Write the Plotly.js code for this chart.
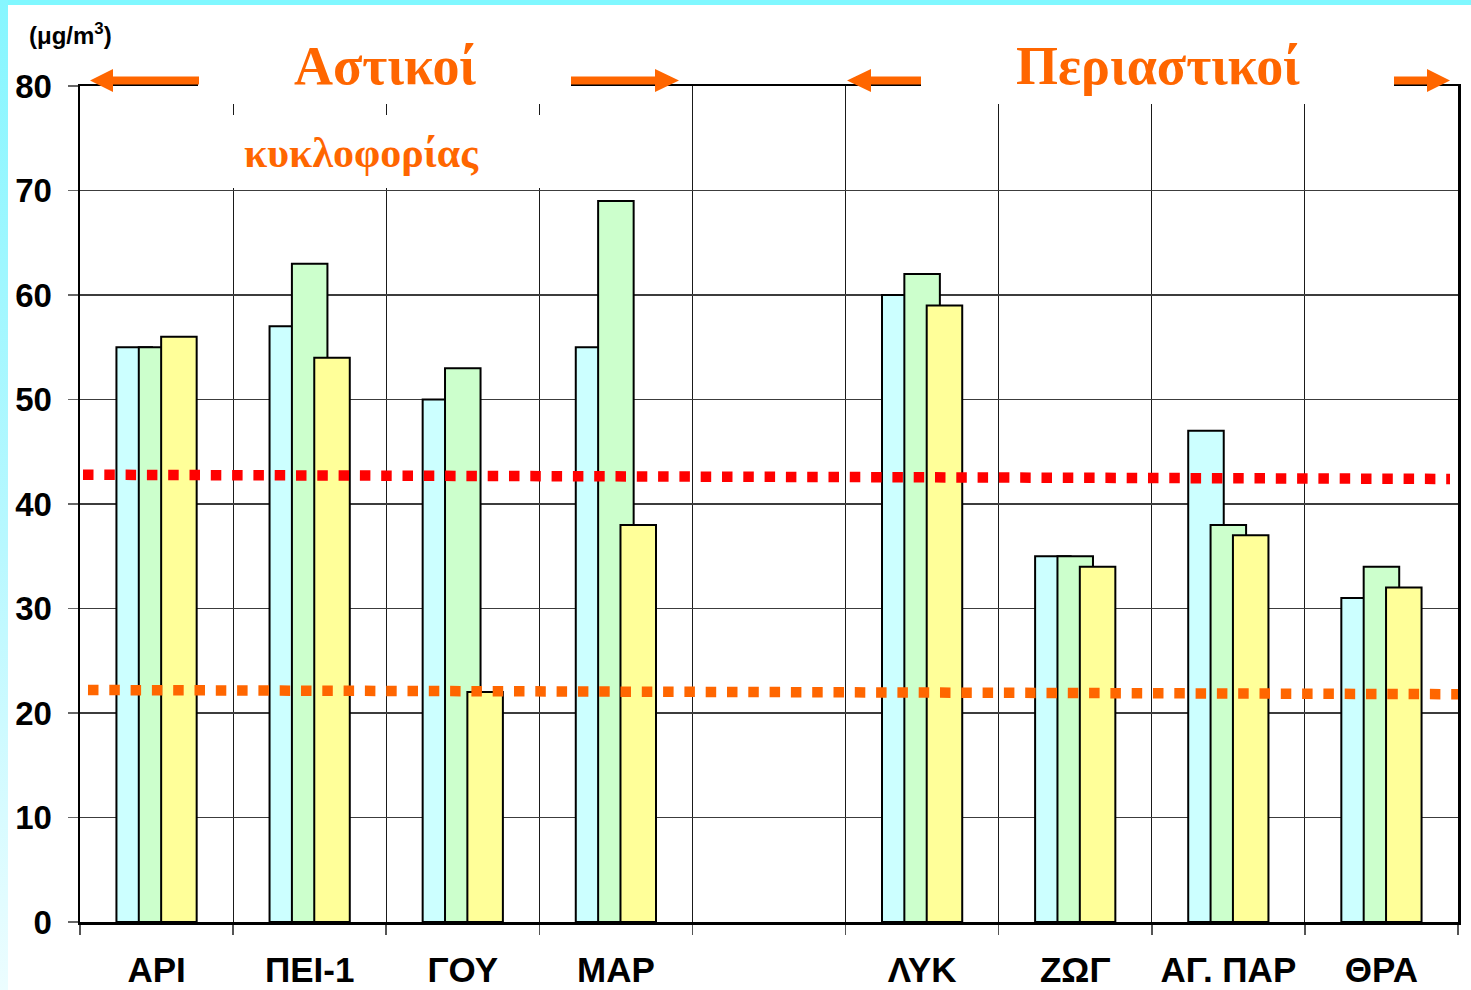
<!DOCTYPE html>
<html>
<head>
<meta charset="utf-8">
<script src="https://cdn.plot.ly/plotly-3.0.1.min.js"></script>
<style>
  html, body { margin: 0; padding: 0; background: #ffffff; }
  #wrap { position: relative; width: 1471px; height: 990px; overflow: hidden; }
  #chart { position: absolute; left: 0; top: 0; width: 1471px; height: 990px; }
  #topband { position: absolute; left: 0; top: 0; width: 1471px; height: 5px; background: #80F8FF; z-index: 5; }
  #leftband { position: absolute; left: 0; top: 0; width: 8px; height: 990px; z-index: 5;
              background: linear-gradient(to bottom, #86F6FF 0%, #B8F8FF 55%, #ECFDFF 100%); }
</style>
</head>
<body>
<div id="wrap">
  <div id="chart"></div>
  <div id="topband"></div>
  <div id="leftband"></div>
</div>
<script>
// ---- data ----
const categories   = ['ΑΡΙ', 'ΠΕΙ-1', 'ΓΟΥ', 'ΜΑΡ', ' ', 'ΛΥΚ', 'ΖΩΓ', 'ΑΓ. ΠΑΡ', 'ΘΡΑ'];
const seriesCyan   = [55, 57, 50, 55, null, 60, 35, 47, 31];
const seriesGreen  = [55, 63, 53, 69, null, 62, 35, 38, 34];
const seriesYellow = [56, 54, 22, 38, null, 59, 34, 37, 32];
const yTickVals    = [0, 10, 20, 30, 40, 50, 60, 70, 80];
const redLimit     = [42.8, 42.4];   // start / end level of red dotted line
const orangeLimit  = [22.2, 21.8];   // start / end level of orange dotted line
const unitLabel    = '(μg/m<sup>3</sup>)';
const groupUrban   = 'Αστικοί';
const groupTraffic = 'κυκλοφορίας';
const groupSuburb  = 'Περιαστικοί';

// ---- layout helpers (pixel -> paper) ----
const L = 80, R = 1458, T = 86, B = 922;
const px = v => (v - L) / (R - L);
const py = v => (B - v) / (B - T);

const barW = 0.232;
const offs = [-0.262, -0.116, 0.030];
const outline = { color: '#000000', width: 2 };

function barTrace(vals, color, off) {
  return {
    type: 'bar', x: categories, y: vals, width: barW, offset: off,
    marker: { color: color, line: outline }, hoverinfo: 'skip'
  };
}

const traces = [
  barTrace(seriesCyan,   '#CCFFFF', offs[0]),
  barTrace(seriesGreen,  '#CCFFCC', offs[1]),
  barTrace(seriesYellow, '#FFFF99', offs[2])
];

function arrow(tail, headBase, tip, yc) {
  const st = yc - 4, sb = yc + 4, ht = yc - 11.5, hb = yc + 11.5;
  return 'M' + px(tip) + ',' + py(yc) +
         ' L' + px(headBase) + ',' + py(ht) +
         ' L' + px(headBase) + ',' + py(st) +
         ' L' + px(tail) + ',' + py(st) +
         ' L' + px(tail) + ',' + py(sb) +
         ' L' + px(headBase) + ',' + py(sb) +
         ' L' + px(headBase) + ',' + py(hb) + ' Z';
}

const orange = '#FF6600';
const shapes = [
  // dotted limit lines
  { type: 'line', xref: 'paper', yref: 'y', x0: px(83), x1: px(1450), y0: redLimit[0], y1: redLimit[1],
    line: { color: '#FF0000', width: 10.5, dash: '10.5px,10.8px' }, layer: 'above' },
  { type: 'line', xref: 'paper', yref: 'y', x0: px(88), x1: px(1458), y0: orangeLimit[0], y1: orangeLimit[1],
    line: { color: orange, width: 10.5, dash: '10.5px,10.8px' }, layer: 'above' },
  // white label boxes
  { type: 'rect', xref: 'paper', yref: 'paper', x0: px(198), x1: px(571), y0: py(104), y1: py(30),
    fillcolor: '#ffffff', line: { width: 0 }, layer: 'above' },
  { type: 'rect', xref: 'paper', yref: 'paper', x0: px(205), x1: px(560), y0: py(188), y1: py(115),
    fillcolor: '#ffffff', line: { width: 0 }, layer: 'above' },
  { type: 'rect', xref: 'paper', yref: 'paper', x0: px(921), x1: px(1394), y0: py(104), y1: py(30),
    fillcolor: '#ffffff', line: { width: 0 }, layer: 'above' },
  // arrows
  { type: 'path', xref: 'paper', yref: 'paper', path: arrow(199, 113, 90, 80.5), fillcolor: orange, line: { width: 0 }, layer: 'above' },
  { type: 'path', xref: 'paper', yref: 'paper', path: arrow(571, 655, 679, 80.5), fillcolor: orange, line: { width: 0 }, layer: 'above' },
  { type: 'path', xref: 'paper', yref: 'paper', path: arrow(921, 871, 847, 80.5), fillcolor: orange, line: { width: 0 }, layer: 'above' },
  { type: 'path', xref: 'paper', yref: 'paper', path: arrow(1394, 1427, 1450, 80.5), fillcolor: orange, line: { width: 0 }, layer: 'above' }
];

const serif = 'Liberation Serif, Times New Roman, serif';
const annotations = [
  { xref: 'paper', yref: 'paper', x: px(27), y: py(34), xanchor: 'left', yanchor: 'middle', showarrow: false,
    text: unitLabel, font: { family: 'Liberation Sans, Arial, sans-serif', size: 24, weight: 700, color: '#000' } },
  { xref: 'paper', yref: 'paper', x: px(385), y: py(66), xanchor: 'center', yanchor: 'middle', showarrow: false,
    text: groupUrban, font: { family: serif, size: 54, weight: 700, color: orange } },
  { xref: 'paper', yref: 'paper', x: px(361.5), y: py(153), xanchor: 'center', yanchor: 'middle', showarrow: false,
    text: groupTraffic, font: { family: serif, size: 42, weight: 700, color: orange } },
  { xref: 'paper', yref: 'paper', x: px(1157.5), y: py(66), xanchor: 'center', yanchor: 'middle', showarrow: false,
    text: groupSuburb, font: { family: serif, size: 54, weight: 700, color: orange } }
];

const layout = {
  width: 1471, height: 990,
  margin: { l: L, r: 1471 - R, t: T, b: 990 - B, pad: 0 },
  paper_bgcolor: '#ffffff', plot_bgcolor: '#ffffff',
  showlegend: false, barmode: 'overlay',
  xaxis: {
    type: 'category', categoryorder: 'array', categoryarray: categories,
    range: [-0.5, 8.5], tickson: 'boundaries', tickangle: 0,
    ticks: 'outside', ticklen: 10, tickwidth: 1.5, tickcolor: '#555',
    showgrid: true, gridcolor: '#1a1a1a', gridwidth: 1,
    showline: true, linecolor: '#000', linewidth: 2.5, mirror: true,
    tickfont: { family: 'Liberation Sans Narrow, Arial Narrow, Liberation Sans, Arial, sans-serif', size: 35, weight: 700, color: '#000' },
    ticklabelstandoff: 15, fixedrange: true
  },
  yaxis: {
    range: [0, 80], tickmode: 'array', tickvals: yTickVals,
    ticks: 'outside', ticklen: 10, tickwidth: 1.5, tickcolor: '#666',
    showgrid: true, gridcolor: '#3c3c3c', gridwidth: 1.5, zeroline: false,
    showline: true, linecolor: '#000', linewidth: 2.5, mirror: true,
    tickfont: { family: 'Liberation Sans, Arial, sans-serif', size: 33, weight: 700, color: '#000' },
    ticklabelstandoff: 9, fixedrange: true
  },
  shapes: shapes,
  annotations: annotations
};

Plotly.newPlot('chart', traces, layout, { staticPlot: true, displayModeBar: false });
</script>
</body>
</html>
